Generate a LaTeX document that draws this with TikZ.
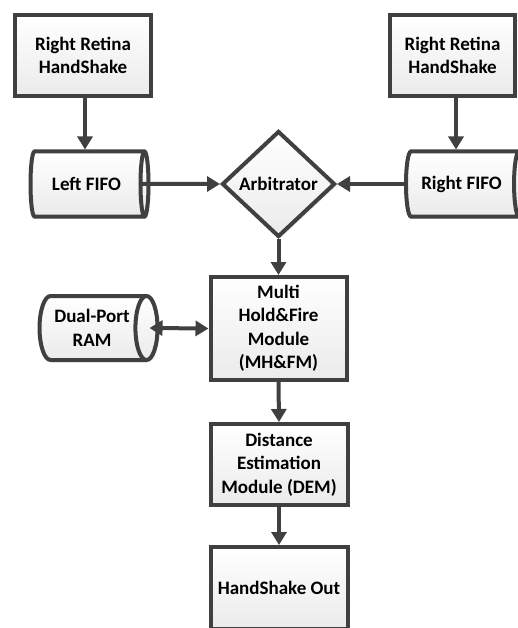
\documentclass[tikz,border=0pt]{standalone}
\usepackage{fontspec}
\setmainfont{Carlito}
\usepackage{tikz}
\usetikzlibrary{shapes}
\usetikzlibrary{shapes.geometric}
\usetikzlibrary{arrows.meta}
\usetikzlibrary{shadows}
\definecolor{edgegray}{RGB}{64,64,64}

\begin{document}
\begin{tikzpicture}[x=1pt,y=-1pt,
    >={Triangle[length=13pt,width=15pt]},
    block/.style={draw=edgegray,line width=4pt,top color=white,bottom color=black!8,
        drop shadow={shadow xshift=2pt,shadow yshift=-2pt,opacity=0.18},
        align=center,inner sep=0pt,font=\fontsize{19}{23.5}\selectfont\bfseries},
    unit/.style={block,rectangle,minimum width=#1},
    fifo/.style={block,cylinder,shape aspect=0.6,minimum height=118pt,minimum width=#1},
    decide/.style={block,diamond,minimum width=113pt,minimum height=106pt},
    flow/.style={->,draw=edgegray,line width=4pt}]
    \useasboundingbox (0,0) rectangle (518,628);
    % Handshake inputs
    \node[unit=136pt,minimum height=81pt] (rhsleft) at (83,55.5) {Right Retina\\HandShake};
    \node[unit=125pt,minimum height=81pt] (rhsright) at (452.5,55.5) {Right Retina\\HandShake};
    % FIFOs
    \node[fifo=65pt] (lfifo) at (86.5,184) {Left FIFO};
    \node[fifo=65pt] (rfifo) at (461.5,184) {Right FIFO};
    \node[decide] (arb) at (278.5,184) {Arbitrator};
    % Processing chain
    \node[unit=136pt,minimum height=103pt] (mhfm) at (278.5,328.5) {Multi\\Hold\&Fire\\Module\\(MH\&FM)};
    \node[fifo=64pt] (ram) at (92,328) {Dual-Port\\RAM};
    \node[unit=137pt,minimum height=81pt] (dem) at (279,464.5) {Distance\\Estimation\\Module (DEM)};
    \node[unit=137pt,minimum height=82pt] (hsout) at (279,588) {HandShake Out};
    % Arrows
    \draw[flow] ([xshift=2pt]rhsleft.south) to ([xshift=2pt]rhsleft.south |- lfifo.north);
    \draw[flow] ([xshift=3.5pt]rhsright.south) to ([xshift=3.5pt]rhsright.south |- rfifo.north);
    \draw[flow] ([xshift=-10pt]lfifo.east) to (arb.west);
    \draw[flow] (rfifo.west) to (arb.east);
    \draw[flow] (arb.south) to (mhfm.north);
    \draw[flow,<->] ([xshift=-10pt]ram.east) to (mhfm.west);
    \draw[flow] (mhfm.south) to (dem.north);
    \draw[flow] (dem.south) to (hsout.north);
\end{tikzpicture}
\end{document}
